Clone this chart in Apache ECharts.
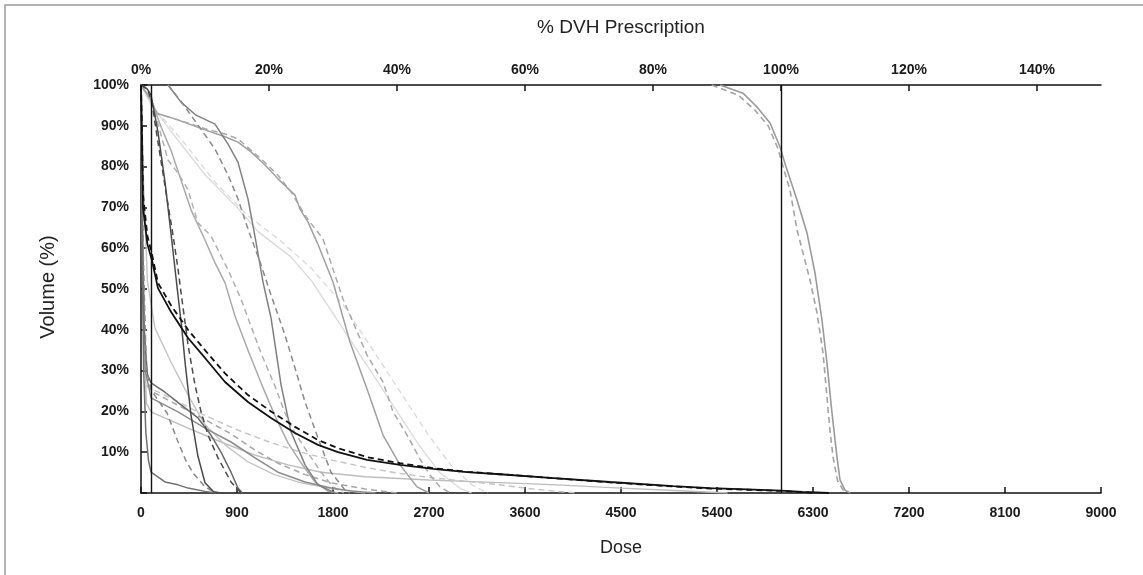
<!DOCTYPE html>
<html>
<head>
<meta charset="utf-8">
<script src="https://cdn.jsdelivr.net/npm/echarts@6/dist/echarts.min.js"></script>
<style>
html,body{margin:0;padding:0;background:#fff;}
#chart{width:1143px;height:575px;}
</style>
</head>
<body>
<div id="chart"></div>
<script>
// ---- tick labels ----
const doseTicks = [0, 900, 1800, 2700, 3600, 4500, 5400, 6300, 7200, 8100, 9000];
const prescriptionTicks = [0, 20, 40, 60, 80, 100, 120, 140];
const volumeTicks = [10, 20, 30, 40, 50, 60, 70, 80, 90, 100];
const referenceDoses = [100, 6000];

// ---- DVH curves: [dose, volume %] ----
const blackSolid = [[0,100],[8,88],[19,70],[60,61],[103,57],[159,50.2],[281,44.4],[441,38],[600,33.1],[788,27.2],[1003,22.3],[1219,18.4],[1444,14.7],[1659,11.8],[1847,10],[2119,8.1],[2428,6.9],[2738,5.9],[3056,5.1],[3366,4.6],[3834,3.7],[4397,2.7],[4988,1.7],[5334,1.2],[5681,0.9],[6000,0.6],[6200,0.3],[6450,0]];
const blackDashed = [[0,100],[8,90],[19,73],[60,63],[103,58.5],[159,51.5],[281,46],[441,40],[600,35],[788,29.3],[1003,24],[1219,20],[1444,16.2],[1659,13],[1847,11],[2119,8.8],[2428,7.3],[2738,6.1],[3056,5.2],[3366,4.6],[3834,3.7],[4397,2.6],[4988,1.6],[5334,1.1],[5681,0.8],[6000,0.5],[6200,0.2],[6300,0]];
const darkSolid = [[0,100],[60,99],[94,97.5],[159,88.5],[225,76.2],[272,65.7],[319,54.9],[340,50],[380,41],[413,32],[469,19],[534,9],[600,2.5],[680,0.3],[750,0]];
const darkDashed = [[0,100],[60,99],[100,96],[159,86],[234,73.8],[300,63.2],[347,54.9],[366,51],[441,36.3],[506,26.5],[563,19.9],[628,14.2],[722,8.6],[844,2.7],[928,0.3],[960,0]];
const grayASolid = [[253,100],[375,95.8],[516,92.6],[694,90.4],[816,85.5],[909,81.1],[1003,72.1],[1078,61.5],[1144,51.7],[1219,42.9],[1313,26.5],[1406,15],[1538,6.9],[1659,2],[1819,0]];
const grayADashed = [[253,100],[375,96],[534,90.2],[694,84.3],[816,77.9],[909,72.1],[1003,64.7],[1116,56.6],[1219,48.5],[1350,38.7],[1444,30.6],[1538,22.3],[1659,13.5],[1781,5.1],[1913,0.7],[1960,0]];
const grayBSolid = [[0,100],[80,97],[150,93],[319,91.7],[600,89],[788,87.3],[909,86],[1031,83.6],[1163,80.4],[1284,77],[1444,73],[1490,69.6],[1566,66.4],[1650,61.5],[1800,51.7],[1959,37],[2119,25.5],[2269,14.2],[2428,6.9],[2588,1.5],[2700,0]];
const grayBDashed = [[0,100],[80,97],[150,93],[319,91.7],[600,89.3],[788,88],[909,86.8],[1125,81.9],[1284,77.9],[1406,73.8],[1538,68.1],[1584,66.4],[1706,62.3],[1800,54.9],[1894,47.5],[1988,41.9],[2119,33.8],[2269,27.2],[2363,19.9],[2494,14.2],[2616,8.3],[2709,4.4],[2803,1.5],[2900,0]];
const grayFSolid = [[0,100],[100,96],[190,89.6],[281,84],[375,76.7],[469,69.4],[600,62],[694,56.4],[788,51.5],[881,43.4],[1003,35],[1125,27],[1256,18.9],[1378,12.3],[1500,7.4],[1631,2.7],[1750,0.5],[1850,0]];
const grayFDashed = [[0,100],[100,96],[253,81.6],[347,78.4],[441,74.3],[534,66.2],[656,63],[722,59.6],[816,54.7],[938,47.5],[1031,40.9],[1125,34.3],[1256,26.2],[1350,19.6],[1444,14.7],[1566,9.8],[1688,5.1],[1800,1.5],[1900,0]];
const faintSolid = [[0,100],[100,95],[300,88],[600,78],[900,70],[1100,64],[1400,58],[1600,52],[1800,44],[2000,36],[2200,28],[2400,20],[2600,12],[2800,5],[3000,1],[3100,0]];
const faintDashed = [[0,100],[100,95],[400,86],[700,76],[1000,68],[1300,62],[1600,55],[1900,46],[2100,38],[2300,30],[2500,22],[2700,14],[2900,7],[3100,2],[3250,0]];
const lightI = [[0,100],[25,75],[60,52],[131,40.4],[281,32.1],[441,24],[600,16.7],[788,11.8],[1003,7.6],[1250,4.5],[1500,2.5],[1800,1],[2100,0]];
const lowH1 = [[0,100],[10,70],[30,40],[60,29],[94,27],[225,24.7],[375,21.6],[534,18.4],[656,14.2],[750,10],[844,5.1],[909,1.2],[950,0]];
const lowH1Dashed = [[0,100],[20,60],[50,30],[100,25],[244,19.6],[340,13],[420,8],[488,4.9],[600,1.5],[700,0]];
const lowH2 = [[0,100],[15,60],[40,30],[94,23.3],[347,19.9],[600,15.9],[844,12.5],[1069,8.6],[1284,5.1],[1538,2.7],[1781,1.2],[2000,0.4],[2200,0]];
const lowH2Dashed = [[0,100],[15,60],[40,32],[94,25],[347,21.5],[600,18],[844,14.5],[1069,10.5],[1284,7.3],[1538,4.5],[1781,2.5],[2100,1],[2400,0]];
const lowH3 = [[0,100],[20,50],[50,22],[94,19.9],[441,15.9],[750,12.5],[1069,9.3],[1378,6.9],[1688,5.1],[2100,4],[2700,3.2],[3300,2.6],[3900,2],[4500,1.2],[5000,0.6],[5500,0]];
const lowH3Dashed = [[0,100],[20,50],[60,26],[300,23],[600,19],[900,15.5],[1200,12.5],[1500,10],[1800,8],[2100,6.3],[2400,4.9],[2700,3.8],[3000,3],[3300,2.2],[3600,1.2],[3900,0.4],[4100,0]];
const lowH5 = [[0,100],[10,60],[25,30],[45,15],[70,8],[94,5.1],[225,2.7],[347,2],[441,1.2],[600,0.4],[700,0]];
const targetSolid = [[5428,100],[5644,98],[5775,94.6],[5897,90.7],[5991,84.8],[6040,80.5],[6150,71.8],[6244,63.7],[6319,53.9],[6384,42.4],[6431,31.9],[6478,19.6],[6525,8.8],[6553,3.2],[6600,0.7],[6650,0]];
const targetDashed = [[5350,100],[5600,97.5],[5750,94],[5880,90],[5970,84.5],[6030,79],[6084,74.3],[6150,64.5],[6272,52.2],[6338,44.1],[6394,34.3],[6431,23.5],[6459,15.4],[6488,8.8],[6530,3],[6600,0]];

const curves = [
  {d: faintSolid, c: '#dadada', t: 'solid', w: 1.3},
  {d: faintDashed, c: '#dadada', t: 'dashed', w: 1.3},
  {d: lowH3, c: '#bdbdbd', t: 'solid', w: 1.4},
  {d: lowH3Dashed, c: '#c4c4c4', t: 'dashed', w: 1.4},
  {d: lightI, c: '#c4c4c4', t: 'solid', w: 1.4},
  {d: grayFSolid, c: '#aaaaaa', t: 'solid', w: 1.5},
  {d: grayFDashed, c: '#b0b0b0', t: 'dashed', w: 1.5},
  {d: grayBSolid, c: '#a0a0a0', t: 'solid', w: 1.5},
  {d: grayBDashed, c: '#a8a8a8', t: 'dashed', w: 1.5},
  {d: lowH2, c: '#8c8c8c', t: 'solid', w: 1.5},
  {d: lowH2Dashed, c: '#a6a6a6', t: 'dashed', w: 1.5},
  {d: grayASolid, c: '#808080', t: 'solid', w: 1.5},
  {d: grayADashed, c: '#8a8a8a', t: 'dashed', w: 1.5},
  {d: lowH1, c: '#6a6a6a', t: 'solid', w: 1.5},
  {d: lowH1Dashed, c: '#888888', t: 'dashed', w: 1.5},
  {d: lowH5, c: '#707070', t: 'solid', w: 1.5},
  {d: darkSolid, c: '#4a4a4a', t: 'solid', w: 1.5},
  {d: darkDashed, c: '#4a4a4a', t: 'dashed', w: 1.5},
  {d: targetSolid, c: '#9a9a9a', t: 'solid', w: 1.6},
  {d: targetDashed, c: '#a4a4a4', t: 'dashed', w: 1.6},
  {d: blackDashed, c: '#111111', t: 'dashed', w: 1.8},
  {d: blackSolid, c: '#111111', t: 'solid', w: 1.8}
];

const series = curves.map(function (s, i) {
  return {
    type: 'line', data: s.d, showSymbol: false, symbol: 'none', silent: true,
    lineStyle: {color: s.c, width: s.w, type: s.t === 'dashed' ? [6, 4] : 'solid'},
    z: 2 + i / 100
  };
});
series.push({
  type: 'line', data: [], silent: true,
  markLine: {
    symbol: ['none', 'none'], silent: true, label: {show: false},
    lineStyle: {color: '#111', width: 1.4, type: 'solid'},
    data: referenceDoses.map(function (v) { return {xAxis: v}; })
  }
});

const labelFont = {color: '#1a1a1a', fontWeight: 'bold', fontFamily: 'Liberation Sans, Arial, sans-serif', fontSize: 14};
const axisLineStyle = {color: '#111', width: 1.5};

const chart = echarts.init(document.getElementById('chart'), null, {renderer: 'canvas'});
chart.setOption({
  animation: false,
  backgroundColor: '#ffffff',
  grid: {left: 141, right: 42, top: 85, bottom: 82, outerBoundsMode: 'none'},
  graphic: [
    {type: 'rect', shape: {x: 5, y: 5, width: 1150, height: 580}, style: {fill: 'none', stroke: '#9a9a9a', lineWidth: 1.5}, silent: true, z: -10},
    {type: 'text', x: 621, y: 28, style: {text: '% DVH Prescription', font: '19px "Liberation Sans", Arial, sans-serif', fill: '#222', textAlign: 'center', textVerticalAlign: 'middle'}},
    {type: 'text', x: 621, y: 548, style: {text: 'Dose', font: '18px "Liberation Sans", Arial, sans-serif', fill: '#222', textAlign: 'center', textVerticalAlign: 'middle'}},
    {type: 'text', x: 48, y: 287, rotation: Math.PI / 2, style: {text: 'Volume (%)', font: '20px "Liberation Sans", Arial, sans-serif', fill: '#222', textAlign: 'center', textVerticalAlign: 'middle'}}
  ],
  xAxis: [
    {
      type: 'value', position: 'bottom', min: doseTicks[0], max: doseTicks[doseTicks.length - 1], interval: doseTicks[1] - doseTicks[0],
      axisLine: {show: true, lineStyle: axisLineStyle},
      axisTick: {show: true, inside: true, length: 6, lineStyle: axisLineStyle},
      axisLabel: Object.assign({}, labelFont, {margin: 13, formatter: function (v) { return String(v); }}),
      splitLine: {show: false}
    },
    {
      type: 'value', position: 'top', min: 0, max: 150, interval: 20,
      axisLine: {show: true, lineStyle: axisLineStyle},
      axisTick: {show: true, inside: true, length: 6, lineStyle: axisLineStyle, customValues: prescriptionTicks},
      axisLabel: Object.assign({}, labelFont, {margin: 8, formatter: function (v) { return v + '%'; }, customValues: prescriptionTicks}),
      splitLine: {show: false}
    }
  ],
  yAxis: {
    type: 'value', min: 0, max: volumeTicks[volumeTicks.length - 1], interval: volumeTicks[1] - volumeTicks[0],
    axisLine: {show: true, lineStyle: axisLineStyle},
    axisTick: {show: true, inside: true, length: 6, lineStyle: axisLineStyle},
    axisLabel: Object.assign({}, labelFont, {margin: 12, formatter: function (v) { return v === 0 ? '' : v + '%'; }}),
    splitLine: {show: false}
  },
  series: series
});
</script>
</body>
</html>
